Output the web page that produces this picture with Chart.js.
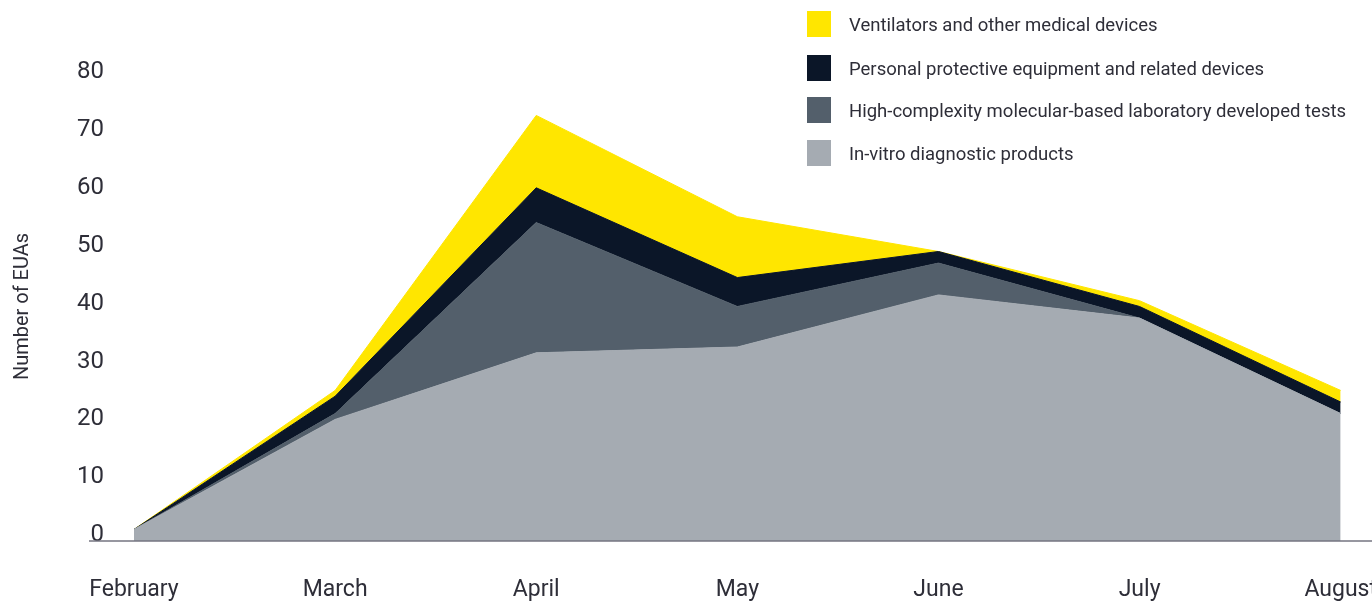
<!DOCTYPE html>
<html>
<head>
<meta charset="utf-8">
<script src="https://cdn.jsdelivr.net/npm/chart.js@4.4.1/dist/chart.umd.min.js"></script>
<style>
  html, body { margin: 0; padding: 0; background: #fff; overflow: hidden; }
  #wrap { position: relative; width: 1372px; height: 601px; overflow: hidden; }
  #box { position: absolute; left: 0; top: 0; width: 1412px; height: 601px; }
  #legend { position: absolute; left: 807px; top: 0; font-family: Roboto, sans-serif; font-size: 18.5px; color: #2e2e38; }
  #legend .row { position: absolute; left: 0; white-space: nowrap; height: 26px; }
  #legend .sw { position: absolute; left: 0; top: 0; width: 24px; height: 26px; }
  #legend .tx { position: absolute; left: 42px; top: 2px; line-height: 24px; }
</style>
</head>
<body>
<div id="wrap">
  <div id="box"><canvas id="chart" width="1412" height="601"></canvas></div>
  <div id="legend"></div>
</div>
<script>
// months on the x axis
const months = ['February', 'March', 'April', 'May', 'June', 'July', 'August'];
// EUAs per category (stacked bottom to top)
const invitro = [1, 20, 31.5, 32.5, 41.5, 37.5, 21];
const labTests = [0, 1, 22.5, 7, 5.5, 0, 0];
const ppe = [0, 3, 6, 5, 2, 2, 2];
const ventilators = [0, 1, 12.5, 10.5, 0, 1, 2];
const yTicks = [0, 10, 20, 30, 40, 50, 60, 70, 80];

const series = [
  { label: 'In-vitro diagnostic products', data: invitro, color: '#a5abb2' },
  { label: 'High-complexity molecular-based laboratory developed tests', data: labTests, color: '#535f6b' },
  { label: 'Personal protective equipment and related devices', data: ppe, color: '#0b1628' },
  { label: 'Ventilators and other medical devices', data: ventilators, color: '#ffe600' },
];

// legend, top item is the top layer
const legendTops = [11, 55, 97, 140];
const legend = document.getElementById('legend');
series.slice().reverse().forEach((s, i) => {
  const row = document.createElement('div');
  row.className = 'row';
  row.style.top = legendTops[i] + 'px';
  row.innerHTML = '<div class="sw" style="background:' + s.color + '"></div><div class="tx">' + s.label + '</div>';
  legend.appendChild(row);
});

// long base line under the areas
const baseLine = {
  id: 'baseLine',
  afterDatasetsDraw(chart) {
    const ctx = chart.ctx;
    const y = chart.scales.y.getPixelForValue(-1);
    ctx.save();
    ctx.strokeStyle = '#747480';
    ctx.lineWidth = 1.5;
    ctx.beginPath();
    ctx.moveTo(chart.chartArea.left - 45, y);
    ctx.lineTo(chart.width, y);
    ctx.stroke();
    ctx.restore();
  }
};

new Chart(document.getElementById('chart'), {
  type: 'line',
  data: {
    labels: months,
    datasets: series.map((s, i) => ({
      label: s.label,
      data: s.data,
      backgroundColor: s.color,
      borderColor: s.color,
      borderWidth: 1,
      pointRadius: 0,
      tension: 0,
      fill: i === 0 ? 'start' : '-1',
    })),
  },
  options: {
    responsive: false,
    animation: false,
    layout: { padding: { top: 72, right: 0, left: 0, bottom: 0 } },
    plugins: {
      legend: { display: false },
      tooltip: { enabled: false },
    },
    scales: {
      x: {
        offset: false,
        grid: { display: false, drawTicks: false },
        border: { display: false },
        ticks: {
          padding: 35,
          color: '#2e2e38',
          font: { family: 'Roboto', size: 23 },
          maxRotation: 0,
          autoSkip: false,
        },
        afterFit(scale) { scale.height = 60; },
      },
      y: {
        stacked: true,
        min: -1,
        max: 80,
        grid: { display: false, drawTicks: false },
        border: { display: false },
        afterBuildTicks(scale) { scale.ticks = yTicks.map(v => ({ value: v })); },
        ticks: {
          padding: 30,
          color: '#2e2e38',
          font: { family: 'Roboto', size: 24 },
        },
        title: {
          display: true,
          text: 'Number of EUAs',
          color: '#2e2e38',
          font: { family: 'Roboto', size: 20 },
          padding: { top: 11, bottom: 0 },
        },
        afterFit(scale) { scale.width = 134; },
      },
    },
  },
  plugins: [baseLine],
});
</script>
</body>
</html>
